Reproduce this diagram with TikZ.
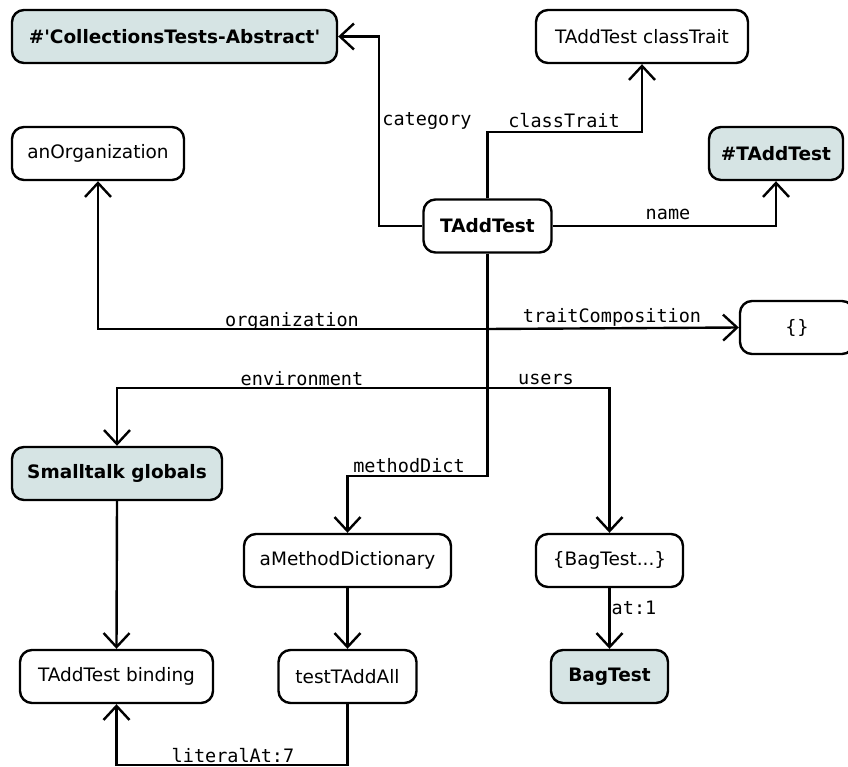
\documentclass[tikz,border=0pt]{standalone}
\usepackage{fontspec}
\setmainfont{DejaVu Sans}
\setmonofont{DejaVu Sans Mono}
\usetikzlibrary{arrows.meta}
\definecolor{objfill}{RGB}{214,228,228}
\tikzset{
  obj/.style={draw=black, line width=2.4pt, rounded corners=12pt, fill=white,
    minimum height=53pt, inner xsep=12pt, font=\fontsize{18.5}{22}\selectfont},
  key/.style={obj, fill=objfill, font=\fontsize{18.5}{22}\selectfont\bfseries},
  link/.style={draw=black, line width=2.4pt,
    -{Straight Barb[length=14pt,width=26pt,line width=2.4pt]}},
  lbl/.style={inner sep=0pt, font=\ttfamily\fontsize{18.5}{22}\selectfont}
}
\begin{document}
\begin{tikzpicture}[x=1pt,y=-1pt]
\useasboundingbox (0,0) rectangle (848,767);
\clip (0,0) rectangle (848,767);

% objects
\node[key, minimum width=325pt] (cat) at (174.5,36.5) {\#\textquotesingle CollectionsTests-Abstract\textquotesingle};
\node[obj, minimum width=212pt] (ctr) at (642,36.5) {TAddTest classTrait};
\node[obj, minimum width=172pt] (org) at (98,153.5) {anOrganization};
\node[key, minimum width=130pt] (nam) at (776,153.5) {\#TAddTest};
\node[obj, minimum width=128pt, font=\fontsize{18.5}{22}\selectfont\bfseries] (t) at (487.5,226) {TAddTest};
\node[obj, minimum width=114pt] (tc) at (797,327.5) {\{\}};
\node[key, minimum width=210pt] (glob) at (117,473.5) {Smalltalk globals};
\node[obj, minimum width=207pt] (md) at (347.5,560.5) {aMethodDictionary};
\node[obj, minimum width=147pt] (users) at (609.5,560.5) {\{BagTest...\}};
\node[obj, minimum width=193pt] (bind) at (116.5,676.5) {TAddTest binding};
\node[obj, minimum width=138pt] (meth) at (347.5,676.5) {testTAddAll};
\node[key, minimum width=117pt] (bag) at (609.5,676.5) {BagTest};

% junctions on the trunk below TAddTest
\coordinate (jleft) at (379,226);
\coordinate (jtop) at (487.5,132);
\coordinate (jorg) at (487.5,329);
\coordinate (jenv) at (487.5,388);
\coordinate (jmd) at (487.5,476);
\coordinate (jlit) at (347.5,765);

% connectors
\draw[link] (t.west) -- (jleft) |- (cat.east);
\draw[link] (t.north) -- (jtop) -| (ctr.south);
\draw[link] (t.east) -| (nam.south);
\draw[link] (t.south) -- (jorg) -| (org.south);
\draw[link] (jorg) -- (tc.west);
\draw[link] (jenv) -| (glob.north);
\draw[link] (jenv) -| (users.north);
\draw[link] (t.south) -- (jmd) -| (md.north);
\draw[link] (glob.south) -- (bind.north);
\draw[link] (md.south) -- (meth.north);
\draw[link] (users.south) -- (bag.north);
\draw[link] (meth.south) -- (jlit) -| (bind.south);

% labels
\node[lbl] (lcat) at (427,121) {category};
\node[lbl] (lctr) at (564,121) {classTrait};
\node[lbl] (lnam) at (668,214) {name};
\node[lbl] (lorg) at (292,321) {organization};
\node[lbl] (ltc) at (612,317) {traitComposition};
\node[lbl] (lenv) at (302,379) {environment};
\node[lbl] (lusr) at (546,379) {users};
\node[lbl] (lmd) at (409,466) {methodDict};
\node[lbl] (lat) at (634,608) {at:1};
\node[lbl] (llit) at (233,756) {literalAt:7};
\end{tikzpicture}
\end{document}
